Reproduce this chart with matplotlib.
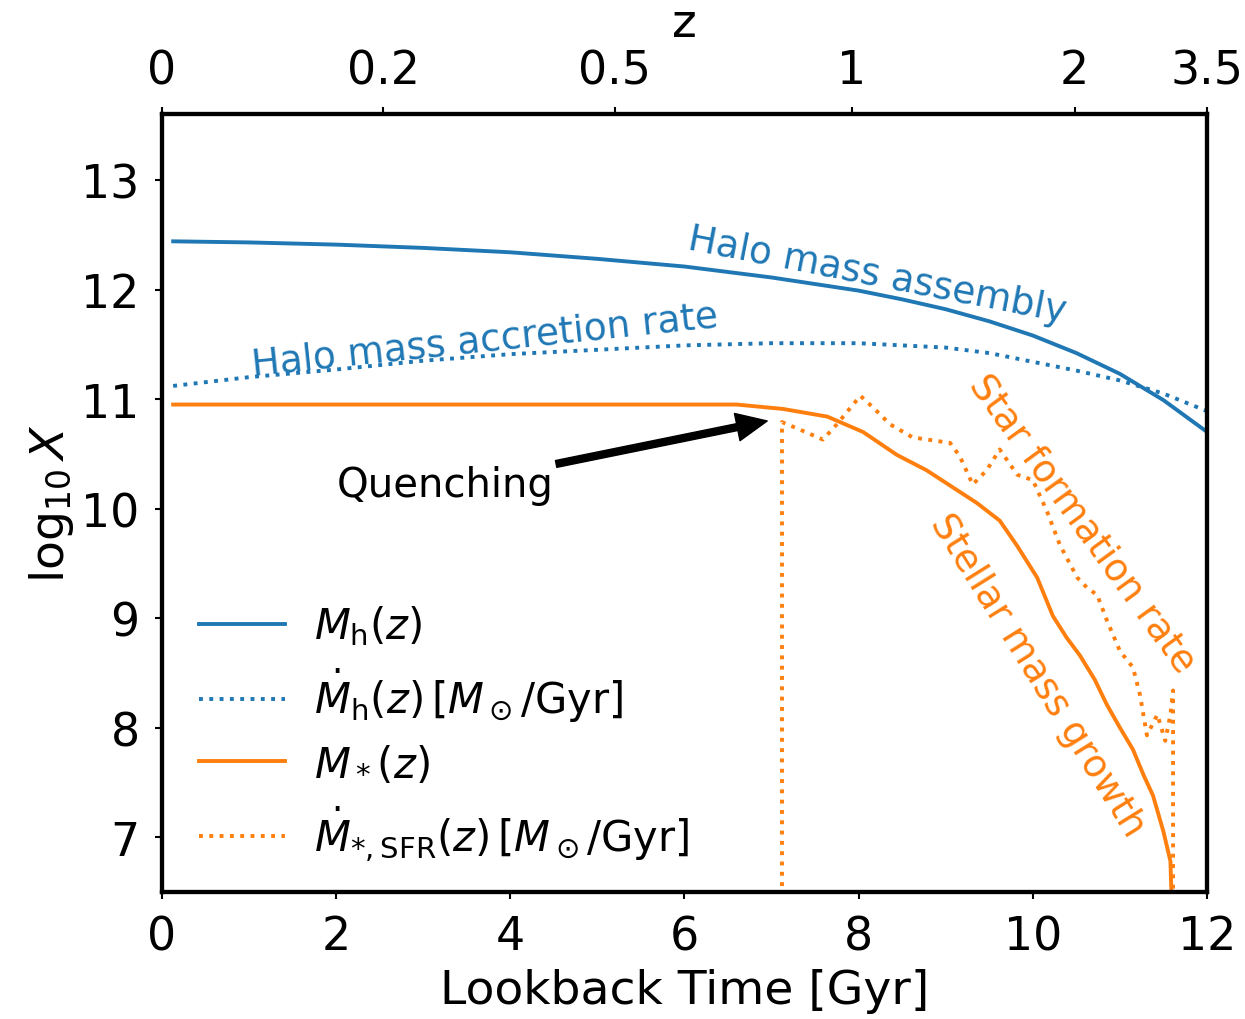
import matplotlib
matplotlib.use("Agg")
import matplotlib.pyplot as plt
import numpy as np

# halo mass assembly (log10 Msun) vs lookback time [Gyr]
t_mh = [0.13, 1, 2, 3, 4, 5, 6, 7, 8, 8.5, 9, 9.5, 10, 10.5, 11, 11.5, 12]
mh = [12.44, 12.43, 12.41, 12.38, 12.34, 12.28, 12.21, 12.11, 11.99, 11.91, 11.82,
      11.71, 11.58, 11.42, 11.23, 10.99, 10.70]

# halo mass accretion rate
t_mhdot = [0.13, 1, 2, 3, 4, 5, 6, 7, 8, 9, 9.5, 10, 10.5, 11, 11.5, 12]
mhdot = [11.12, 11.20, 11.27, 11.35, 11.41, 11.45, 11.49, 11.51, 11.51, 11.47, 11.42,
         11.34, 11.26, 11.17, 11.05, 10.89]

# stellar mass growth
t_ms = [0.13, 6.60, 7.13, 7.64, 8.05, 8.44, 8.78, 9.36, 9.62, 9.82, 10.05, 10.23,
        10.39, 10.54, 10.71, 10.85, 11.00, 11.15, 11.27, 11.38, 11.50, 11.58, 11.61]
ms = [10.95, 10.95, 10.91, 10.84, 10.70, 10.49, 10.35, 10.05, 9.89, 9.66, 9.37, 9.02,
      8.82, 8.66, 8.44, 8.21, 8.00, 7.80, 7.57, 7.38, 7.05, 6.78, 6.0]

# star formation rate
t_sfr = [7.12, 7.12, 7.33, 7.59, 7.75, 8.02, 8.17, 8.36, 8.62, 9.05, 9.16, 9.31, 9.47,
         9.62, 9.82, 10.0, 10.16, 10.31, 10.51, 10.62, 10.74, 10.85, 11.0, 11.15,
         11.23, 11.31, 11.43, 11.52, 11.58, 11.61, 11.61]
sfr = [4.0, 10.79, 10.72, 10.63, 10.77, 11.03, 10.92, 10.77, 10.65, 10.60, 10.48, 10.22,
       10.35, 10.54, 10.31, 10.26, 9.98, 9.67, 9.37, 9.28, 9.21, 8.98, 8.70, 8.55,
       8.30, 7.93, 8.12, 7.88, 8.12, 8.34, 4.0]

z_ticks = ['0', '0.2', '0.5', '1', '2', '3.5']
z_pos = [0.0, 2.54, 5.2, 7.92, 10.48, 12.0]

blue = '#1f77b4'
orange = '#ff7f0e'

fig = plt.figure(figsize=(12.45, 10.2), dpi=100)
ax = fig.add_axes([0.130, 0.1245, 0.8395, 0.7625])

ax.plot(t_mh, mh, color=blue, lw=2.8, label=r'$M_{\rm h}(z)$')
ax.plot(t_mhdot, mhdot, color=blue, lw=2.8, ls=':', label=r'$\dot{M}_{\rm h}(z)\,[M_\odot/{\rm Gyr}]$')
ax.plot(t_ms, ms, color=orange, lw=2.8, label=r'$M_*(z)$')
ax.plot(t_sfr, sfr, color=orange, lw=2.8, ls=':', label=r'$\dot{M}_{*,\rm SFR}(z)\,[M_\odot/{\rm Gyr}]$')

ax.set_xlim(0, 12)
ax.set_ylim(6.5, 13.6)
ax.set_xticks(range(0, 13, 2))
ax.set_yticks(range(7, 14))
ax.tick_params(labelsize=33, width=1.5, length=5, pad=11)
ax.set_xlabel('Lookback Time [Gyr]', fontsize=34, labelpad=6)
ax.set_ylabel(r'$\log_{10} X$', fontsize=34, labelpad=4)
for s in ax.spines.values():
    s.set_linewidth(3)

ax2 = ax.twiny()
ax2.set_xlim(0, 12)
ax2.set_xticks(z_pos)
ax2.set_xticklabels(z_ticks)
ax2.tick_params(labelsize=33, width=1.5, length=5, pad=10)
ax2.set_xlabel('z', fontsize=34, labelpad=9)
for s in ax2.spines.values():
    s.set_linewidth(3)

ax.text(8.21, 12.13, 'Halo mass assembly', color=blue, fontsize=27,
        rotation=-11, ha='center', va='center', rotation_mode='anchor')
ax.text(3.71, 11.54, 'Halo mass accretion rate', color=blue, fontsize=27,
        rotation=6, ha='center', va='center', rotation_mode='anchor')
ax.text(10.56, 9.87, 'Star formation rate', color=orange, fontsize=27,
        rotation=-54, ha='center', va='center', rotation_mode='anchor')
ax.text(10.05, 8.48, 'Stellar mass growth', color=orange, fontsize=27,
        rotation=-58, ha='center', va='center', rotation_mode='anchor')
ax.annotate('Quenching', xy=(6.95, 10.8), xytext=(3.25, 10.22), fontsize=29,
            ha='center', va='center',
            arrowprops=dict(facecolor='black', edgecolor='black', width=5,
                            headwidth=20, headlength=22, shrink=0.0))

ax.legend(loc='lower left', fontsize=30, frameon=False, handlelength=2.05,
          handletextpad=0.7, bbox_to_anchor=(0.0, -0.01), labelspacing=0.45)

fig.savefig('out.png', dpi=100)
